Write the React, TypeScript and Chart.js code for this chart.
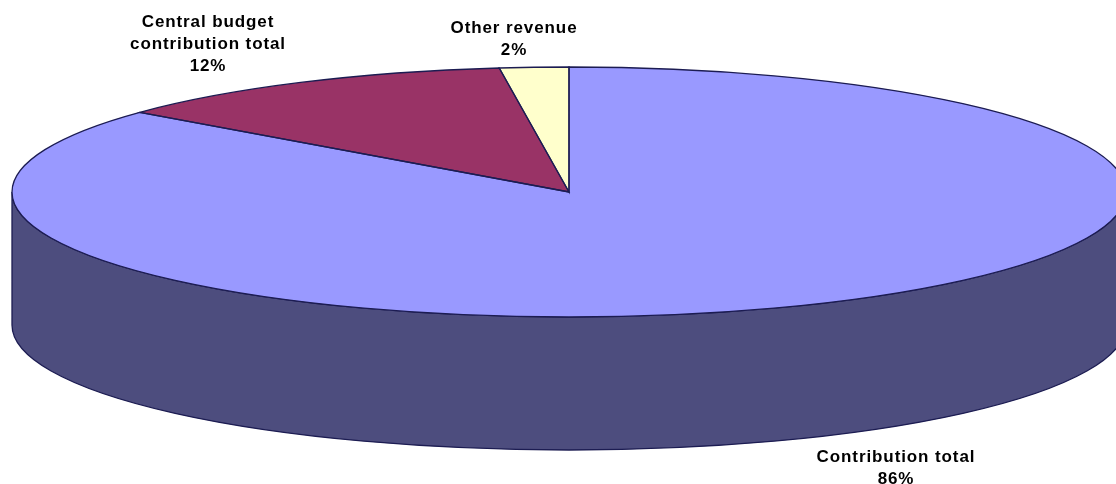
import { useEffect, useRef } from "react";
import { Chart, ArcElement, PieController } from "chart.js";
import type { Plugin } from "chart.js";

Chart.register(ArcElement, PieController);

const categories = ["Contribution total", "Central budget contribution total", "Other revenue"];
const shares = [86, 12, 2];
const topColours = ["#9999ff", "#993366", "#ffffcc"];
const wallColours = ["#4d4d7e", "#4d1a33", "#808066"];
const labelLines = [["Contribution total"], ["Central budget", "contribution total"], ["Other revenue"]];
const labelCentres = [[896, 457], [208, 22], [514, 28]];

const WIDTH = 1116;
const HEIGHT = 484;
const RADIUS_X = 557;
const RADIUS_Y = 125;
const DEPTH = 133;
const OUTLINE = "#1c1c52";

// Squash the round pie into an ellipse around its own centre.
function applyTilt(ctx: CanvasRenderingContext2D, x: number, y: number, r: number) {
  ctx.translate(x, y);
  ctx.scale(RADIUS_X / r, RADIUS_Y / r);
  ctx.translate(-x, -y);
}

// Front wall below the rim, limited to the part of each slice facing the viewer.
function drawWalls(chart: Chart) {
  const ctx = chart.ctx;
  chart.getDatasetMeta(0).data.forEach((el: any, i: number) => {
    const { x, y, startAngle, endAngle } = el.getProps(["x", "y", "startAngle", "endAngle"]);
    for (const turn of [-2 * Math.PI, 0, 2 * Math.PI]) {
      const a = Math.max(startAngle + turn, 0);
      const b = Math.min(endAngle + turn, Math.PI);
      if (b <= a) continue;
      ctx.beginPath();
      ctx.ellipse(x, y, RADIUS_X, RADIUS_Y, 0, a, b);
      ctx.ellipse(x, y + DEPTH, RADIUS_X, RADIUS_Y, 0, b, a, true);
      ctx.closePath();
      ctx.fillStyle = wallColours[i];
      ctx.fill();
      ctx.strokeStyle = OUTLINE;
      ctx.lineWidth = 1.3;
      ctx.stroke();
    }
  });
}

function drawOutlines(chart: Chart) {
  const ctx = chart.ctx;
  chart.getDatasetMeta(0).data.forEach((el: any) => {
    const { x, y, startAngle, endAngle } = el.getProps(["x", "y", "startAngle", "endAngle"]);
    ctx.beginPath();
    ctx.moveTo(x, y);
    ctx.ellipse(x, y, RADIUS_X, RADIUS_Y, 0, startAngle, endAngle);
    ctx.closePath();
    ctx.strokeStyle = OUTLINE;
    ctx.lineWidth = 1.3;
    ctx.stroke();
  });
}

function drawLabels(chart: Chart) {
  const ctx = chart.ctx;
  ctx.save();
  ctx.font = "bold 17px 'Liberation Sans'";
  ctx.fillStyle = "#000000";
  ctx.textAlign = "center";
  ctx.textBaseline = "middle";
  (ctx as any).letterSpacing = "0.9px";
  const lineHeight = 22;
  labelLines.forEach((lines, i) => {
    const [cx, top] = labelCentres[i];
    [...lines, `${shares[i]}%`].forEach((text, row) => {
      ctx.fillText(text, cx, top + row * lineHeight);
    });
  });
  ctx.restore();
}

const tiltedPie: Plugin<"pie"> = {
  id: "tiltedPie",
  beforeDatasetsDraw(chart) {
    drawWalls(chart);
    const el: any = chart.getDatasetMeta(0).data[0];
    const { x, y, outerRadius } = el.getProps(["x", "y", "outerRadius"]);
    chart.ctx.save();
    applyTilt(chart.ctx, x, y, outerRadius);
  },
  afterDatasetsDraw(chart) {
    chart.ctx.restore();
    drawOutlines(chart);
    drawLabels(chart);
  },
};

export default function App() {
  const canvasRef = useRef<HTMLCanvasElement>(null);

  useEffect(() => {
    const chart = new Chart(canvasRef.current!, {
      type: "pie",
      data: {
        labels: categories,
        datasets: [{ data: shares, backgroundColor: topColours, borderWidth: 0 }],
      },
      options: {
        responsive: false,
        animation: false,
        layout: { padding: { left: 22, bottom: 100 } },
        plugins: { legend: { display: false }, tooltip: { enabled: false } },
      },
      plugins: [tiltedPie],
    });
    return () => chart.destroy();
  }, []);

  return (
    <div style={{ position: "absolute", left: 0, top: 0, width: WIDTH, height: HEIGHT, overflow: "hidden", background: "#ffffff" }}>
      <canvas ref={canvasRef} width={WIDTH} height={HEIGHT} style={{ display: "block" }} />
    </div>
  );
}
